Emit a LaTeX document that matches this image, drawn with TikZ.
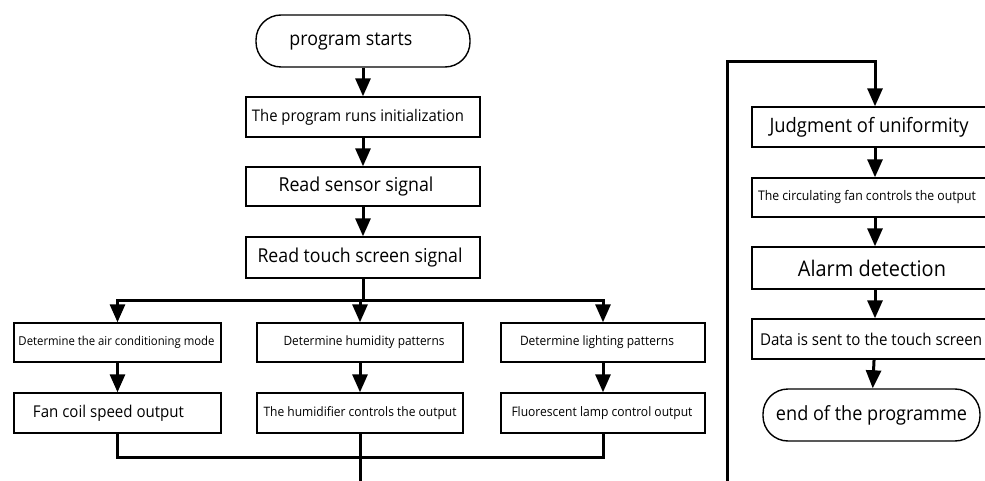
\documentclass[tikz,border=0pt]{standalone}
\usepackage{graphicx}
\usepackage{fontspec}
\setmainfont{Open Sans}
\usetikzlibrary{arrows.meta}

% set a label to an exact printed width, slightly taller letters
\newcommand{\fitw}[2]{\scalebox{1}[1.08]{\resizebox{#1pt}{!}{#2}}}

\begin{document}
\begin{tikzpicture}[x=1pt,y=-1pt,
  box/.style={draw, line width=1.4pt, inner sep=0pt, fill=white},
  term/.style={draw, line width=1.4pt, inner sep=0pt, rounded corners=25pt, fill=white},
  flow/.style={line width=3pt},
  arr/.style={flow, -{Triangle[width=15pt,length=18pt]}},
  tshift/.style={execute at begin node={\hspace*{#1pt}\hspace*{#1pt}}}
]
\clip (0,0) rectangle (985,481);
\fill[white] (0,0) rectangle (985,481);

% main column
\node[term, minimum width=214pt, minimum height=52pt, tshift=-12] (start) at (363,41) {\fitw{123}{program starts}};
\node[box, minimum width=234pt, minimum height=40pt, tshift=-5] (init) at (363,117) {\fitw{212}{The program runs initialization}};
\node[box, minimum width=234pt, minimum height=39pt, tshift=-7] (sensor) at (363,186.5) {\fitw{155}{Read sensor signal}};
\node[box, minimum width=234pt, minimum height=41pt, tshift=-3] (touch) at (363,257.5) {\fitw{205}{Read touch screen signal}};

% three branches
\node[box, minimum width=207pt, minimum height=39pt, tshift=-1] (air) at (117.5,342.5) {\fitw{196}{Determine the air conditioning mode}};
\node[box, minimum width=206pt, minimum height=39pt, tshift=4] (hum) at (360,342.5) {\fitw{161}{Determine humidity patterns}};
\node[box, minimum width=204pt, minimum height=39pt, tshift=-6] (light) at (603,342.5) {\fitw{154}{Determine lighting patterns}};
\node[box, minimum width=207pt, minimum height=40pt, tshift=-9] (fan) at (117.5,413) {\fitw{151}{Fan coil speed output}};
\node[box, minimum width=206pt, minimum height=40pt] (humout) at (360,413) {\fitw{193}{The humidifier controls the output}};
\node[box, minimum width=204pt, minimum height=40pt, tshift=-1] (lamp) at (603,413) {\fitw{181}{Fluorescent lamp control output}};

% continuation column
\node[box, minimum width=246pt, minimum height=40pt, tshift=-6] (unif) at (875,127) {\fitw{199}{Judgment of uniformity}};
\node[box, minimum width=246pt, minimum height=39pt, tshift=-8] (circ) at (875,197.5) {\fitw{218}{The circulating fan controls the output}};
\node[box, minimum width=246pt, minimum height=42pt, tshift=-3] (alarm) at (875,268) {\fitw{148}{Alarm detection}};
\node[box, minimum width=246pt, minimum height=40pt, tshift=-4] (send) at (875,339) {\fitw{222}{Data is sent to the touch screen}};
\node[term, minimum width=217pt, minimum height=52pt] (stop) at (871.5,415) {\fitw{191}{end of the programme}};

% connectors, main column
\draw[arr] (start) -- (init);
\draw[arr] (init) -- (sensor);
\draw[arr] (sensor) -- (touch);

\coordinate (splitL) at (117.5,300);
\coordinate (splitR) at (603,300);
\draw[flow] (touch.south) -- (touch.south |- splitL);
\draw[flow, line cap=rect] (splitL) -- (splitR);
\draw[arr] (splitL) -- (air.north);
\draw[arr] (hum.north |- splitL) -- (hum.north);
\draw[arr] (splitR) -- (light.north);

\draw[arr] (air) -- (fan);
\draw[arr] (hum) -- (humout);
\draw[arr] (light) -- (lamp);

\coordinate (joinL) at (117.5,457);
\coordinate (exitA) at (360,486);
\draw[flow] (fan.south) -- (joinL) -- (joinL -| lamp.south) -- (lamp.south);
\draw[flow] (humout.south) -- (exitA);

% connectors, continuation column
\coordinate (entryB) at (727,486);
\coordinate (loopTop) at (727,62);
\draw[arr] (entryB) -- (loopTop) -| (unif.north);
\draw[arr] (unif) -- (circ);
\draw[arr] (circ) -- (alarm);
\draw[arr] (alarm) -- (send);
\draw[arr] (send) -- (stop);
\end{tikzpicture}
\end{document}
